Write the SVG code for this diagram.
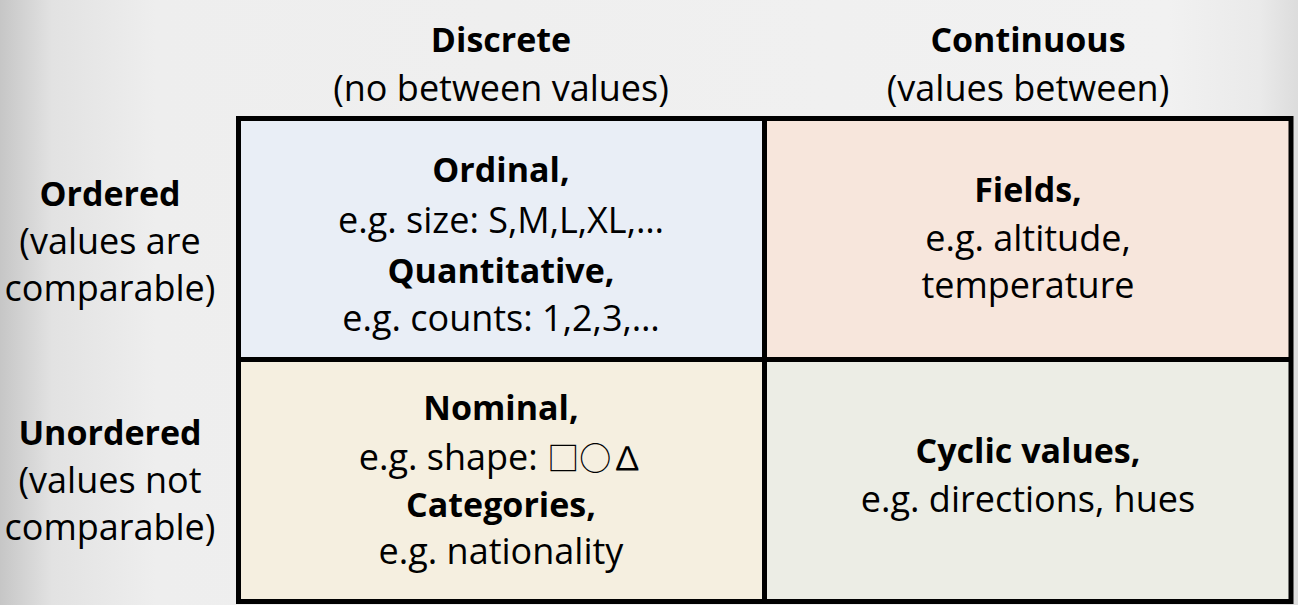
<svg xmlns="http://www.w3.org/2000/svg" width="1298" height="605" viewBox="0 0 1298 605">
  <defs>
    <linearGradient id="bg" x1="0" y1="0" x2="1" y2="0">
      <stop offset="0" stop-color="#c6c6c6"/>
      <stop offset="0.04" stop-color="#e2e2e2"/>
      <stop offset="0.12" stop-color="#eeeeee"/>
      <stop offset="0.9" stop-color="#f1f1f1"/>
      <stop offset="0.97" stop-color="#eaeaea"/>
      <stop offset="1" stop-color="#dcdcdc"/>
    </linearGradient>
  </defs>
  <style>
    text { font-family: "Open Sans", "Noto Sans", sans-serif; font-size: 36px; fill: #000; text-anchor: middle; }
    .b { font-weight: bold; font-size: 34px; }
    .sym { font-family: "Noto Sans CJK SC", "DejaVu Sans", sans-serif; font-size: 32px; }
    .cell { stroke: none; }
    .grid { fill: none; stroke: #000; stroke-width: 5; }
  </style>

  <rect x="0" y="0" width="1298" height="605" fill="url(#bg)"/>

  <!-- column headers -->
  <g id="head-discrete">
    <text class="b" x="501" y="52">Discrete</text>
    <text x="501" y="101">(no between values)</text>
  </g>
  <g id="head-continuous">
    <text class="b" x="1028" y="52">Continuous</text>
    <text x="1028" y="101">(values between)</text>
  </g>

  <!-- row headers -->
  <g id="head-ordered">
    <text class="b" x="110" y="206">Ordered</text>
    <text x="110" y="254">(values are</text>
    <text x="110" y="301">comparable)</text>
  </g>
  <g id="head-unordered">
    <text class="b" x="110" y="445">Unordered</text>
    <text x="110" y="493">(values not</text>
    <text x="110" y="540">comparable)</text>
  </g>

  <!-- cells -->
  <g id="cell-ordinal">
    <rect class="cell" x="238.5" y="118.5" width="526" height="241" fill="#e9eef6"/>
    <text class="b" x="501" y="182">Ordinal,</text>
    <text x="501" y="233">e.g. size: S,M,L,XL,…</text>
    <text class="b" x="501" y="283">Quantitative,</text>
    <text x="501" y="331">e.g. counts: 1,2,3,…</text>
  </g>
  <g id="cell-fields">
    <rect class="cell" x="764.5" y="118.5" width="526.5" height="241" fill="#f7e6dc"/>
    <text class="b" x="1028" y="202">Fields,</text>
    <text x="1028" y="251">e.g. altitude,</text>
    <text x="1028" y="298">temperature</text>
  </g>
  <g id="cell-nominal">
    <rect class="cell" x="238.5" y="359.5" width="526" height="242" fill="#f5efe0"/>
    <text class="b" x="501" y="420">Nominal,</text>
    <text x="501" y="470">e.g. shape: <tspan class="sym">□○∆</tspan></text>
    <text class="b" x="501" y="517">Categories,</text>
    <text x="501" y="564">e.g. nationality</text>
  </g>
  <g id="cell-cyclic">
    <rect class="cell" x="764.5" y="359.5" width="526.5" height="242" fill="#ecede5"/>
    <text class="b" x="1028" y="463">Cyclic values,</text>
    <text x="1028" y="512">e.g. directions, hues</text>
  </g>

  <!-- grid lines -->
  <g id="connectors">
    <rect class="grid" x="238.5" y="118.5" width="1052.5" height="483"/>
    <line class="grid" x1="764.5" y1="118.5" x2="764.5" y2="601.5"/>
    <line class="grid" x1="238.5" y1="359.5" x2="1291" y2="359.5"/>
  </g>
</svg>
